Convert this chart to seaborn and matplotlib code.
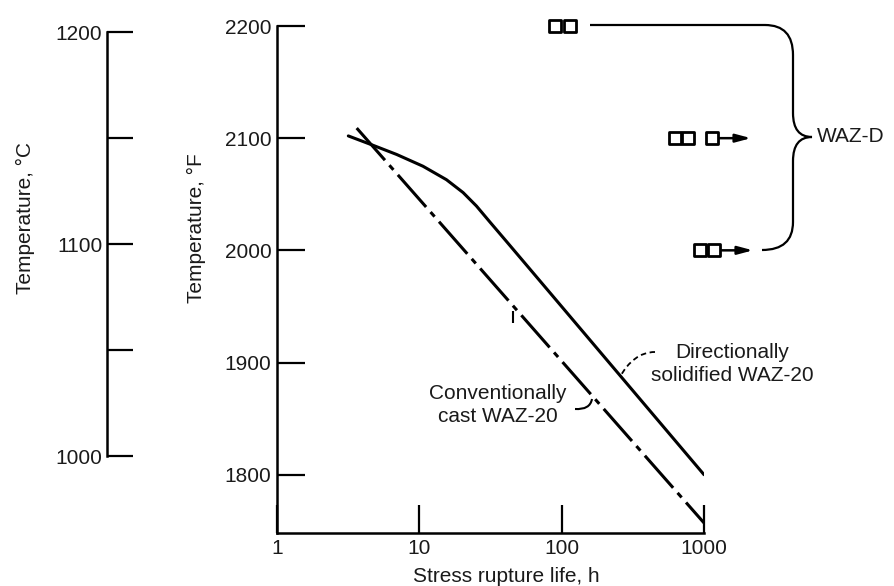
import numpy as np
import pandas as pd
import matplotlib
matplotlib.use("Agg")
import matplotlib.pyplot as plt
import matplotlib.transforms as mtransforms
from matplotlib.path import Path
from matplotlib.patches import PathPatch
from matplotlib.ticker import NullLocator
import seaborn as sns

# ---------------- data ----------------
# Directionally solidified WAZ-20 (solid curve)
ds_life = [3.17, 4.74, 6.92, 10.6, 15.5, 20.3, 25.2, 31.2, 40.9, 56.5, 86.5, 1000]
ds_temp = [2102, 2093.6, 2085.5, 2075, 2063, 2051.5, 2039.5, 2025.5, 2008, 1987, 1959.3, 1800]

# Conventionally cast WAZ-20 (dash-dot line)
cc_life = [3.63, 1000]
cc_temp = [2109, 1757]

# WAZ-D data points
wazd_life = [90, 114, 621, 766, 1138, 930, 1175]
wazd_temp = [2200, 2200, 2100, 2100, 2100, 2000, 2000]
# run-outs (test still running, arrow)
runout_life = [1138, 1175]
runout_temp = [2100, 2000]

x_ticks = [1, 10, 100, 1000]
x_tick_labels = ["1", "10", "100", "1000"]
f_ticks = [1800, 1900, 2000, 2100, 2200]
c_ticks = [1000, 1050, 1100, 1150, 1200]
c_tick_labels = ["1000", "", "1100", "", "1200"]

# ---------------- style ----------------
sns.set_style("ticks")
plt.rcParams["font.family"] = ["Liberation Sans", "DejaVu Sans"]
TXT = "#1a1a1a"

W, H = 894, 586
fig = plt.figure(figsize=(W / 100, H / 100), dpi=100)
px = mtransforms.Affine2D().scale(1 / W, -1 / H).translate(0, 1) + fig.transFigure

ax = fig.add_axes([277 / W, 1 - 533 / H, (704 - 277) / W, (533 - 26) / H])
axc = fig.add_axes([107 / W, 1 - 456 / H, 0.05, (456 - 32) / H])

# ---------------- main axes ----------------
sns.lineplot(x=ds_life, y=ds_temp, ax=ax, color="black", linewidth=2.2,
             sort=False, estimator=None)
sns.lineplot(x=cc_life, y=cc_temp, ax=ax, color="black", linewidth=2.2,
             linestyle=(0, (14, 2.2, 2, 2.2)), sort=False, estimator=None)

# run-out arrows
for xl, yl in zip(runout_life, runout_temp):
    ax.annotate("", xy=(xl * 1.88, yl), xytext=(xl, yl), xycoords="data",
                annotation_clip=False,
                arrowprops=dict(arrowstyle="-|>,head_length=0.75,head_width=0.2",
                                mutation_scale=12, shrinkA=5, shrinkB=0,
                                lw=1.8, color="black"), zorder=2)

sns.scatterplot(x=wazd_life, y=wazd_temp, ax=ax, marker="s", s=80,
                facecolor="white", edgecolor="black", linewidth=2.0,
                clip_on=False, zorder=5)

ax.set_xscale("log")
ax.set_xlim(1, 1000)
ax.set_ylim(1748, 2200)
ax.set_xticks(x_ticks)
ax.set_xticklabels(x_tick_labels)
ax.xaxis.set_minor_locator(NullLocator())
ax.set_yticks(f_ticks)
ax.set_yticklabels([str(t) for t in f_ticks])
ax.tick_params(direction="in", length=20, width=1.6, labelsize=15,
               pad=4, colors="black", labelcolor=TXT)
for s in ["top", "right"]:
    ax.spines[s].set_visible(False)
for s in ["left", "bottom"]:
    ax.spines[s].set_linewidth(1.8)
    ax.spines[s].set_color("black")
ax.set_facecolor("white")

ax.set_xlabel("Stress rupture life, h", fontsize=15, color=TXT)
ax.xaxis.label.set_va("center")
ax.xaxis.set_label_coords(506 / W, 1 - 576 / H, transform=fig.transFigure)
ax.set_ylabel("Temperature, °F", fontsize=15, color=TXT)
ax.yaxis.label.set_rotation_mode("default")
ax.yaxis.label.set_va("center")
ax.yaxis.label.set_ha("center")
ax.yaxis.set_label_coords(196 / W, 1 - 228 / H, transform=fig.transFigure)

# ---------------- Celsius axis ----------------
axc.set_ylim(1000, 1200)
axc.set_xlim(0, 1)
axc.set_yticks(c_ticks)
axc.set_yticklabels(c_tick_labels)
axc.set_xticks([])
axc.tick_params(axis="y", direction="in", length=19, width=1.6, labelsize=15,
                pad=3.5, colors="black", labelcolor=TXT)
for s in ["top", "right", "bottom"]:
    axc.spines[s].set_visible(False)
axc.spines["left"].set_linewidth(1.8)
axc.spines["left"].set_color("black")
axc.patch.set_alpha(0)
axc.set_ylabel("Temperature, °C", fontsize=15, color=TXT)
axc.yaxis.label.set_rotation_mode("default")
axc.yaxis.label.set_va("center")
axc.yaxis.label.set_ha("center")
axc.yaxis.set_label_coords(25 / W, 1 - 218 / H, transform=fig.transFigure)

# ---------------- annotations ----------------
M, L, C3, C4 = Path.MOVETO, Path.LINETO, Path.CURVE3, Path.CURVE4
brace = Path([(590, 25), (765, 25), (793, 25), (793, 55), (793, 113),
              (793, 137), (812, 137), (793, 137), (793, 161), (793, 222),
              (793, 250), (762, 250)],
             [M, L, C3, C3, L, C3, C3, C3, C3, L, C3, C3])
fig.patches.append(PathPatch(brace, transform=px, fill=False, lw=1.6,
                             edgecolor="black"))
fig.text(817 / W, 1 - 137 / H, "WAZ-D", fontsize=15, color=TXT,
         ha="left", va="center")

fig.text(732 / W, 1 - 364 / H, "Directionally\nsolidified WAZ-20",
         fontsize=15, color=TXT, ha="center", va="center", linespacing=1.3)
lead1 = Path([(655, 352), (640, 352), (628, 362), (620, 377)], [M, C4, C4, C4])
fig.patches.append(PathPatch(lead1, transform=px, fill=False, lw=1.3,
                             edgecolor="black", linestyle=(0, (3, 2))))

fig.text(498 / W, 1 - 405 / H, "Conventionally\ncast WAZ-20",
         fontsize=15, color=TXT, ha="center", va="center", linespacing=1.25)
lead2 = Path([(575, 409), (590, 410), (592, 399)], [M, C3, C3])
fig.patches.append(PathPatch(lead2, transform=px, fill=False, lw=1.5,
                             edgecolor="black"))
mark = Path([(513, 311), (513, 323)], [M, L])
fig.patches.append(PathPatch(mark, transform=px, fill=False, lw=1.5,
                             edgecolor="black"))

fig.savefig("out.png", dpi=100, facecolor="white")
